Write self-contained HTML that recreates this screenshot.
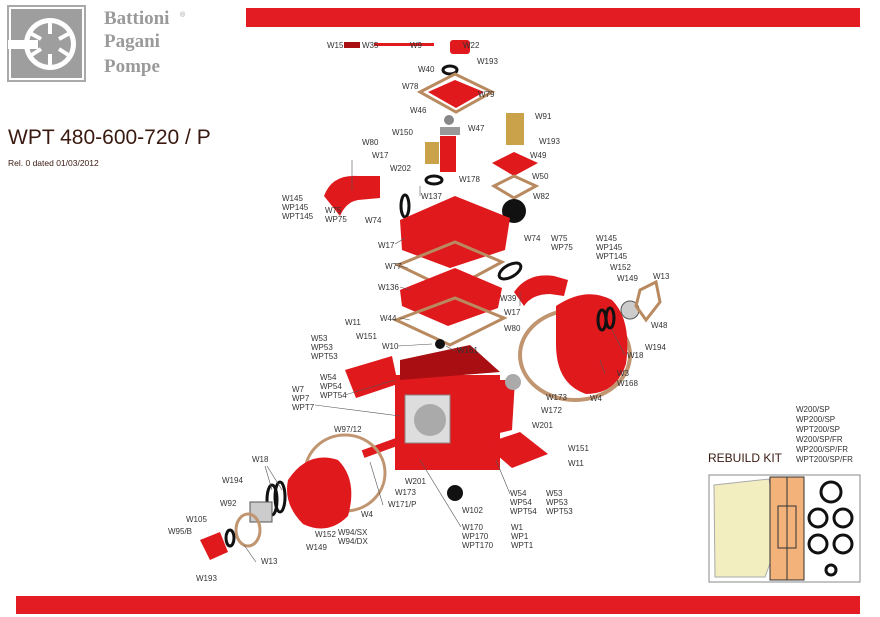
<!DOCTYPE html>
<html><head><meta charset="utf-8"><style>
html,body{margin:0;padding:0;background:#fff;width:880px;height:617px;overflow:hidden}
svg{display:block}
text{font-family:"Liberation Sans",sans-serif;font-size:8px;fill:#333}
.r{fill:#e0191d}
.d{fill:#a80e12}
.g{fill:none;stroke:#b98a60;stroke-width:3}
.k{fill:none;stroke:#111;stroke-width:3}
.l{stroke:#555;stroke-width:0.6;fill:none}
</style></head><body>
<svg width="880" height="617" viewBox="0 0 880 617">
<rect x="246" y="8" width="614" height="19" fill="#e31b23"/>
<rect x="16" y="596" width="844" height="18" fill="#e31b23"/>
<!-- logo -->
<rect x="7" y="5" width="79" height="77" fill="#a9a9a9"/>
<rect x="10" y="8" width="73" height="71" fill="#9e9e9e" stroke="#fff" stroke-width="2"/>
<circle cx="50" cy="44" r="26" fill="#fff"/>
<circle cx="50" cy="44" r="21" fill="#9e9e9e"/>
<rect x="8" y="40" width="30" height="9" fill="#fff"/>
<g stroke="#fff" stroke-width="4"><line x1="50" y1="22" x2="50" y2="34"/><line x1="50" y1="54" x2="50" y2="66"/><line x1="30" y1="33" x2="41" y2="39"/><line x1="70" y1="33" x2="59" y2="39"/><line x1="30" y1="56" x2="41" y2="49"/><line x1="70" y1="56" x2="59" y2="49"/></g>
<text x="104" y="24" style="font-family:'Liberation Serif',serif;font-size:19px;font-weight:bold;fill:#9a9a9a">Battioni</text>
<text x="180" y="17" style="font-size:7px;fill:#9a9a9a">®</text>
<text x="104" y="47" style="font-family:'Liberation Serif',serif;font-size:19px;font-weight:bold;fill:#9a9a9a">Pagani</text>
<text x="104" y="72" style="font-family:'Liberation Serif',serif;font-size:19px;font-weight:bold;fill:#9a9a9a">Pompe</text>
<text x="8" y="144" style="font-size:21px;fill:#3a1a10">WPT 480-600-720 / P</text>
<text x="8" y="166" style="font-size:8.5px;fill:#3a1a10">Rel. 0 dated 01/03/2012</text>

<!-- parts -->
<rect class="d" x="344" y="42" width="16" height="6"/>
<rect class="r" x="374" y="43" width="60" height="3"/>
<rect class="r" x="450" y="40" width="20" height="14" rx="3"/>
<ellipse cx="450" cy="70" rx="7" ry="4" class="k"/>
<polygon class="r" points="428,92 455,80 484,92 456,108"/>
<polygon class="g" points="420,92 455,74 492,92 456,112"/>
<circle cx="449" cy="120" r="5" fill="#888"/>
<rect x="440" y="127" width="20" height="8" fill="#999"/>
<rect class="r" x="440" y="136" width="16" height="36"/>
<rect x="425" y="142" width="14" height="22" fill="#c9a24a"/>
<rect x="506" y="113" width="18" height="32" fill="#c9a24a"/>
<polygon class="r" points="492,163 514,152 538,163 514,176"/>
<polygon class="g" points="494,186 514,176 536,186 514,198"/>
<circle cx="514" cy="211" r="12" fill="#111"/>
<ellipse cx="434" cy="180" rx="8" ry="4" class="k"/>
<ellipse cx="405" cy="206" rx="4" ry="11" class="k"/>
<path class="r" d="M324 196 q8 -22 34 -20 l22 0 l0 22 l-22 2 q-12 2 -18 16 z"/>
<polygon class="r" points="400,220 455,196 510,218 505,250 450,268 402,250"/>
<polygon class="g" points="398,265 455,242 502,262 450,290"/>
<polygon class="r" points="400,290 455,268 502,288 498,308 448,326 402,306"/>
<polygon class="g" points="396,320 455,298 504,318 450,345"/>
<circle cx="440" cy="344" r="5" fill="#111"/>
<ellipse cx="510" cy="271" rx="12" ry="6" class="k" transform="rotate(-30 510 271)"/>
<path class="r" d="M514 292 q14 -20 40 -16 l14 4 l-4 16 l-14 -2 q-18 0 -26 12 z"/>
<ellipse cx="575" cy="355" rx="55" ry="45" fill="none" stroke="#c09570" stroke-width="4"/>
<path class="r" d="M556 306 q30 -20 56 -6 q20 20 14 64 q-10 30 -40 30 q-30 -10 -30 -50 z"/>
<ellipse cx="602" cy="320" rx="4" ry="10" class="k"/><ellipse cx="610" cy="318" rx="4" ry="10" class="k"/>
<circle cx="630" cy="310" r="9" fill="#ccc" stroke="#555"/>
<polygon class="g" points="640,290 656,282 660,302 646,320 636,306"/>
<polygon class="r" points="345,370 392,356 398,384 356,398"/>
<rect class="r" x="395" y="375" width="105" height="95"/>
<polygon class="d" points="400,360 470,345 500,372 400,380"/>
<rect x="405" y="395" width="45" height="48" fill="#ddd" stroke="#888"/>
<circle cx="430" cy="420" r="16" fill="#aaa"/>
<polygon class="r" points="484,444 520,432 548,454 512,468"/>
<polygon class="r" points="475,380 515,380 512,430 470,440" />
<circle cx="513" cy="382" r="8" fill="#aaa"/>
<rect class="r" x="362" y="444" width="40" height="8" transform="rotate(-20 380 448)"/>
<circle cx="455" cy="493" r="8" fill="#111"/>
<ellipse cx="345" cy="473" rx="40" ry="38" fill="none" stroke="#c09570" stroke-width="3"/>
<path class="r" d="M288 480 q20 -30 50 -20 q20 20 10 56 q-20 20 -45 8 q-20 -20 -15 -44 z"/>
<ellipse cx="272" cy="500" rx="5" ry="15" class="k"/><ellipse cx="280" cy="497" rx="5" ry="15" class="k"/>
<rect x="250" y="502" width="22" height="20" fill="#ccc" stroke="#555"/>
<ellipse cx="248" cy="530" rx="12" ry="16" fill="none" stroke="#c09570" stroke-width="3"/>
<ellipse cx="230" cy="538" rx="4" ry="8" class="k"/>
<polygon class="r" points="200,540 220,532 228,552 210,560"/>
<!-- rebuild kit -->
<rect x="709" y="475" width="151" height="107" fill="#fff" stroke="#888"/>
<path d="M714 485 l55 -6 l10 60 l-14 38 l-50 0 z" fill="#f3eec0" stroke="#aaa"/>
<rect x="770" y="477" width="34" height="103" fill="#f2b27a" stroke="#333"/>
<line x1="787" y1="477" x2="787" y2="580" stroke="#333"/>
<rect x="778" y="506" width="18" height="42" fill="none" stroke="#333"/>
<g class="k"><circle cx="831" cy="492" r="10"/><circle cx="818" cy="518" r="9"/><circle cx="843" cy="518" r="9"/><circle cx="818" cy="544" r="9"/><circle cx="843" cy="544" r="9"/><circle cx="831" cy="570" r="5"/></g>
<text x="708" y="462" style="font-size:12px;fill:#3a1a10">REBUILD KIT</text>
<g style="font-size:8.5px"><text x="796" y="412">W200/SP</text><text x="796" y="422">WP200/SP</text><text x="796" y="432">WPT200/SP</text><text x="796" y="442">W200/SP/FR</text><text x="796" y="452">WP200/SP/FR</text><text x="796" y="462">WPT200/SP/FR</text></g>
<!-- labels -->
<text x="327" y="48">W15</text><text x="362" y="48">W35</text><text x="410" y="48">W9</text><text x="463" y="48">W22</text>
<text x="418" y="72">W40</text><text x="477" y="64">W193</text>
<text x="402" y="89">W78</text><text x="478" y="97">W79</text>
<text x="410" y="113">W46</text><text x="468" y="131">W47</text>
<text x="535" y="119">W91</text><text x="539" y="144">W193</text>
<text x="392" y="135">W150</text><text x="362" y="145">W80</text><text x="372" y="158">W17</text>
<text x="530" y="158">W49</text><text x="390" y="171">W202</text><text x="459" y="182">W178</text>
<text x="532" y="179">W50</text><text x="533" y="199">W82</text>
<text x="421" y="199">W137</text>
<text x="282" y="201">W145</text><text x="282" y="210">WP145</text><text x="282" y="219">WPT145</text>
<text x="325" y="213">W75</text><text x="325" y="222">WP75</text><text x="365" y="223">W74</text>
<text x="378" y="248">W17</text><text x="524" y="241">W74</text><text x="551" y="241">W75</text><text x="551" y="250">WP75</text>
<text x="596" y="241">W145</text><text x="596" y="250">WP145</text><text x="596" y="259">WPT145</text>
<text x="385" y="269">W77</text><text x="610" y="270">W152</text><text x="653" y="279">W13</text><text x="617" y="281">W149</text>
<text x="378" y="290">W136</text><text x="500" y="301">W39</text><text x="504" y="315">W17</text><text x="504" y="331">W80</text>
<text x="380" y="321">W44</text><text x="651" y="328">W48</text><text x="345" y="325">W11</text><text x="356" y="339">W151</text>
<text x="311" y="341">W53</text><text x="311" y="350">WP53</text><text x="311" y="359">WPT53</text>
<text x="382" y="349">W10</text><text x="457" y="353">W161</text><text x="627" y="358">W18</text><text x="645" y="350">W194</text>
<text x="320" y="380">W54</text><text x="320" y="389">WP54</text><text x="320" y="398">WPT54</text>
<text x="617" y="376">W3</text><text x="617" y="386">W168</text>
<text x="292" y="392">W7</text><text x="292" y="401">WP7</text><text x="292" y="410">WPT7</text>
<text x="546" y="400">W173</text><text x="590" y="401">W4</text><text x="541" y="413">W172</text>
<text x="532" y="428">W201</text><text x="334" y="432">W97/12</text>
<text x="568" y="451">W151</text><text x="568" y="466">W11</text><text x="252" y="462">W18</text>
<text x="222" y="483">W194</text><text x="395" y="495">W173</text><text x="405" y="484">W201</text>
<text x="510" y="496">W54</text><text x="510" y="505">WP54</text><text x="510" y="514">WPT54</text>
<text x="546" y="496">W53</text><text x="546" y="505">WP53</text><text x="546" y="514">WPT53</text>
<text x="220" y="506">W92</text><text x="388" y="507">W171/P</text><text x="361" y="517">W4</text><text x="462" y="513">W102</text>
<text x="186" y="522">W105</text><text x="168" y="534">W95/B</text><text x="315" y="537">W152</text>
<text x="338" y="535">W94/SX</text><text x="338" y="544">W94/DX</text>
<text x="462" y="530">W170</text><text x="462" y="539">WP170</text><text x="462" y="548">WPT170</text>
<text x="511" y="530">W1</text><text x="511" y="539">WP1</text><text x="511" y="548">WPT1</text>
<text x="306" y="550">W149</text><text x="261" y="564">W13</text><text x="196" y="581">W193</text>
<!-- leader lines -->
<g class="l"><line x1="352" y1="160" x2="352" y2="190"/><line x1="420" y1="186" x2="420" y2="196"/><line x1="395" y1="244" x2="405" y2="238"/><line x1="395" y1="265" x2="408" y2="268"/><line x1="400" y1="287" x2="410" y2="290"/><line x1="400" y1="318" x2="410" y2="320"/><line x1="398" y1="346" x2="432" y2="344"/><line x1="455" y1="351" x2="446" y2="346"/><line x1="345" y1="395" x2="395" y2="380"/><line x1="315" y1="405" x2="400" y2="416"/><line x1="605" y1="374" x2="600" y2="360"/><line x1="625" y1="355" x2="612" y2="330"/><line x1="265" y1="466" x2="272" y2="490"/><line x1="267" y1="466" x2="282" y2="490"/><line x1="520" y1="306" x2="520" y2="292"/><line x1="510" y1="494" x2="496" y2="460"/><line x1="461" y1="527" x2="420" y2="460"/><line x1="383" y1="505" x2="370" y2="462"/><line x1="256" y1="562" x2="244" y2="545"/></g>
</svg>
</body></html>
